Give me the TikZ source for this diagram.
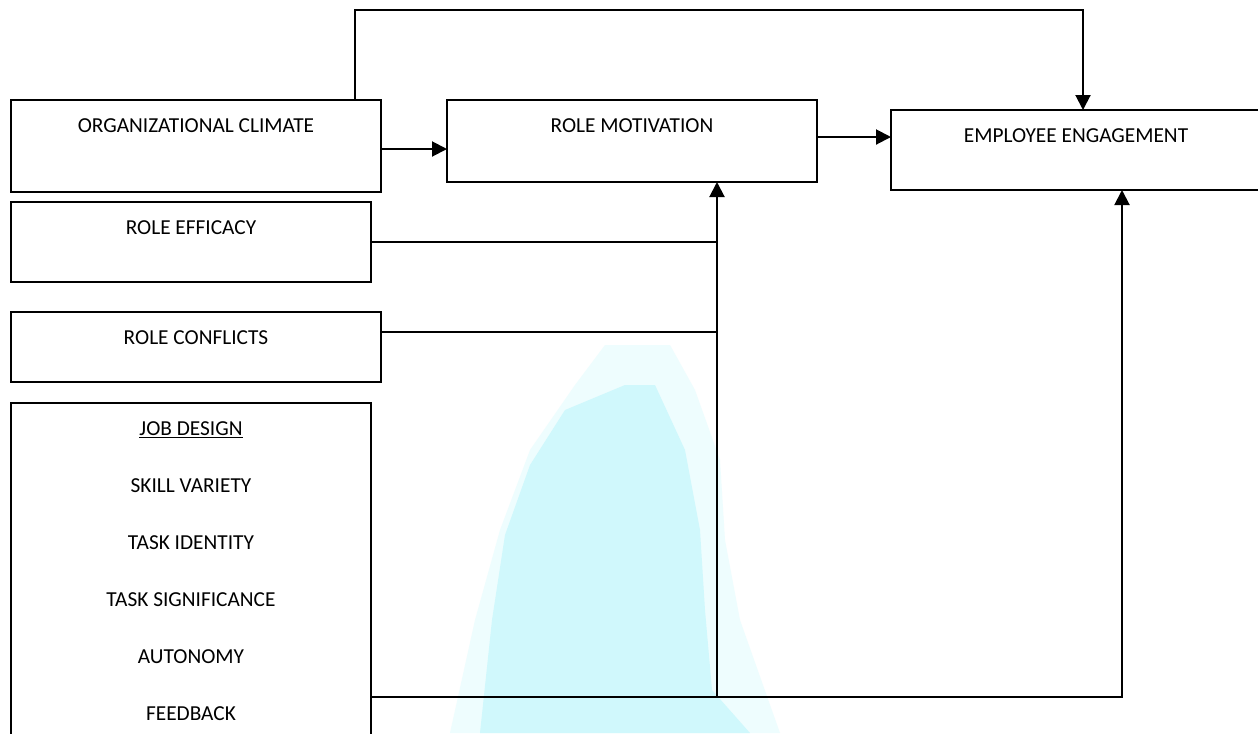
\documentclass[tikz,border=0pt]{standalone}
\usepackage{fontspec}
\setmainfont{Carlito}
\usetikzlibrary{arrows.meta}
\newlength\pxu
\setlength\pxu{0.75pt}
% box content: fixed-size parbox, text centred and set near the top
\newcommand{\boxlines}[3]{\parbox[c][#2\pxu][t]{#1\pxu}{\centering\vspace*{13.8pt}#3\par}}
\definecolor{wmhalo}{RGB}{238,253,254}
\definecolor{wmcore}{RGB}{208,248,252}
\begin{document}
\begin{tikzpicture}[x=0.75pt, y=-0.75pt,
  box/.style={draw, line width=1.5pt, inner sep=0pt, outer sep=0pt, font=\fontsize{16}{19}\selectfont},
  wire/.style={line width=1.5pt},
  arr/.style={wire, -{Triangle[length=11.25pt,width=11.25pt]}}]
\useasboundingbox (0,0) rectangle (1258,733);
\fill[white] (0,0) rectangle (1258,733);

% faint background mark
\fill[wmhalo] (605,345) -- (670,345) -- (695,390) -- (720,460) -- (725,540) -- (740,620)
  -- (780,733) -- (450,733) -- (475,620) -- (500,530) -- (530,450) -- (575,385) -- cycle;
\fill[wmcore] (625,385) -- (655,385) -- (685,450) -- (700,530) -- (705,610) -- (712,690)
  -- (750,733) -- (480,733) -- (492,620) -- (505,535) -- (530,465) -- (565,410) -- cycle;

% boxes
\node[box] (oc) at (196,146) {\boxlines{370}{92}{ORGANIZATIONAL CLIMATE}};
\node[box] (rm) at (632,141) {\boxlines{370}{82}{ROLE MOTIVATION}};
\node[box] (ee) at (1076,150) {\boxlines{370}{80}{EMPLOYEE ENGAGEMENT}};
\node[box] (re) at (191,242) {\boxlines{360}{80}{ROLE EFFICACY}};
\node[box] (rc) at (196,347) {\boxlines{370}{70}{ROLE CONFLICTS}};
\node[box] (jd) at (191,574) {\boxlines{360}{342}{\fontsize{16}{42.75}\selectfont
  \underline{JOB DESIGN}\\SKILL VARIETY\\TASK IDENTITY\\TASK SIGNIFICANCE\\AUTONOMY\\FEEDBACK}};

% routing points
\coordinate (ridge) at (355,10);
\coordinate (drop) at (1083,10);
\coordinate (lvl1) at (0,149);
\coordinate (lvl2) at (0,137);
\coordinate (lvl3) at (0,332);
\coordinate (bus) at (717,697);
\coordinate (rise) at (1122,697);

% connectors
\draw[arr] (oc.north -| ridge) |- (drop) -- (ee.north -| drop);
\draw[arr] (oc.east |- lvl1) -- (rm.west |- lvl1);
\draw[arr] (rm.east |- lvl2) -- (ee.west |- lvl2);
\draw[wire] (re.east) -- (re.east -| bus);
\draw[wire] (rc.east |- lvl3) -- (bus |- lvl3);
\draw[arr] (jd.east |- bus) -- (rise) -- (ee.south -| rise);
\draw[arr] (bus) -- (rm.south -| bus);
\end{tikzpicture}
\end{document}
